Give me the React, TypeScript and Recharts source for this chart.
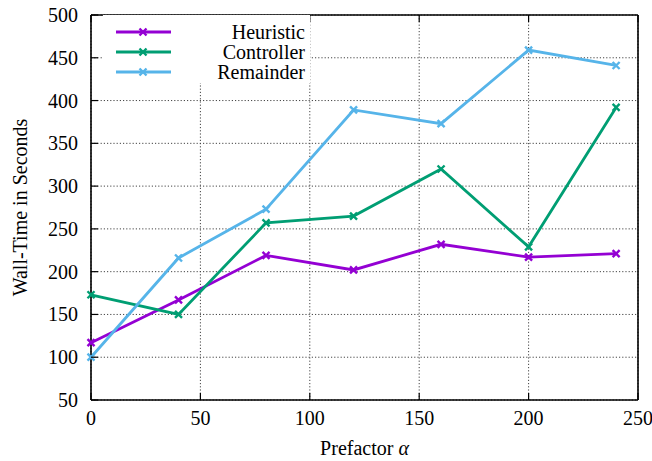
import React from 'react';
import { LineChart, Line, XAxis, YAxis, CartesianGrid } from 'recharts';

const alphas = [0, 40, 80, 120, 160, 200, 240];
const heuristic = [117, 167, 219, 202, 232, 217, 221];
const controller = [173, 150, 257, 265, 320, 229, 392];
const remainder = [100, 216, 273, 389, 373, 459, 441];

const xTicks = [0, 50, 100, 150, 200, 250];
const yTicks = [50, 100, 150, 200, 250, 300, 350, 400, 450, 500];

const seriesNames = ['Heuristic', 'Controller', 'Remainder'];
const seriesKeys = ['heuristic', 'controller', 'remainder'];
const seriesColors = ['#9400d3', '#009e73', '#56b4e9'];

const data = alphas.map((a, i) => ({
  alpha: a,
  heuristic: heuristic[i],
  controller: controller[i],
  remainder: remainder[i],
}));

const FONT = "'Liberation Serif', 'Times New Roman', 'DejaVu Serif', serif";
const TICK_LEN = 7;

// gnuplot style: ticks point inward on every side, labels only bottom/left
const BottomTick = ({ x, y, payload }: any) => (
  <g>
    <line x1={x} x2={x} y1={y} y2={y - TICK_LEN} stroke="#000" strokeWidth={1.2} />
    <text x={x} y={y + 25} textAnchor="middle" style={{ fontFamily: FONT, fontSize: 20 }} fill="#000">
      {payload.value}
    </text>
  </g>
);

const LeftTick = ({ x, y, payload }: any) => (
  <g>
    <line x1={x} x2={x + TICK_LEN} y1={y} y2={y} stroke="#000" strokeWidth={1.2} />
    <text x={x - 13} y={y + 7} textAnchor="end" style={{ fontFamily: FONT, fontSize: 20 }} fill="#000">
      {payload.value}
    </text>
  </g>
);

const TopTick = ({ x, y }: any) => (
  <line x1={x} x2={x} y1={y} y2={y + TICK_LEN} stroke="#000" strokeWidth={1.2} />
);

const RightTick = ({ x, y }: any) => (
  <line x1={x} x2={x - TICK_LEN} y1={y} y2={y} stroke="#000" strokeWidth={1.2} />
);

const crossDot = (color: string) => (props: any) => {
  const { cx, cy, index } = props;
  const s = 3.5;
  return (
    <path
      key={index}
      d={`M${cx - s},${cy - s}L${cx + s},${cy + s}M${cx - s},${cy + s}L${cx + s},${cy - s}`}
      stroke={color}
      strokeWidth={2.4}
      fill="none"
    />
  );
};

const XTitle = ({ viewBox }: any) => (
  <text
    x={viewBox.x + viewBox.width / 2}
    y={viewBox.y + viewBox.height - 6}
    textAnchor="middle"
    style={{ fontFamily: FONT, fontSize: 20 }}
    fill="#000"
  >
    Prefactor <tspan fontStyle="italic">α</tspan>
  </text>
);

const KeyBox = () => (
  <div
    style={{
      position: 'absolute',
      left: 103,
      top: 15,
      width: 207,
      height: 68,
      background: '#fff',
      paddingTop: 7,
      boxSizing: 'border-box',
      fontFamily: FONT,
      fontSize: 20,
    }}
  >
    {seriesNames.map((name, i) => (
      <div key={name} style={{ display: 'flex', alignItems: 'center', height: 20 }}>
        <svg width={68} height={20} style={{ display: 'block' }}>
          <line x1={13} x2={68} y1={10} y2={10} stroke={seriesColors[i]} strokeWidth={2.8} />
          <path d="M36.5,6.5L43.5,13.5M36.5,13.5L43.5,6.5" stroke={seriesColors[i]} strokeWidth={2.4} />
        </svg>
        <div style={{ flex: 1, textAlign: 'right', paddingRight: 5, lineHeight: '20px' }}>{name}</div>
      </div>
    ))}
  </div>
);

export default function App() {
  return (
    <div style={{ position: 'absolute', left: 0, top: 0, width: 652, height: 461, background: '#fff' }}>
      <LineChart width={652} height={461} data={data} margin={{ top: 14, right: 13, bottom: 0, left: 0 }}>
        <CartesianGrid stroke="#444" strokeDasharray="1.2 2" strokeWidth={1} />
        <XAxis
          dataKey="alpha"
          type="number"
          domain={[0, 250]}
          ticks={xTicks}
          height={61}
          tickSize={0}
          tickMargin={0}
          tick={BottomTick}
          axisLine={{ stroke: '#000', strokeWidth: 1.6 }}
          tickLine={false}
          interval={0}
          label={<XTitle />}
        />
        <XAxis
          xAxisId="top"
          orientation="top"
          dataKey="alpha"
          type="number"
          domain={[0, 250]}
          ticks={xTicks}
          height={1}
          tickSize={0}
          tickMargin={0}
          tick={TopTick}
          axisLine={{ stroke: '#000', strokeWidth: 1.6 }}
          tickLine={false}
          interval={0}
        />
        <YAxis
          type="number"
          domain={[50, 500]}
          ticks={yTicks}
          width={91}
          tickSize={0}
          tickMargin={0}
          tick={LeftTick}
          axisLine={{ stroke: '#000', strokeWidth: 1.6 }}
          tickLine={false}
          interval={0}
          label={{
            value: 'Wall-Time in Seconds',
            angle: -90,
            position: 'insideLeft',
            offset: 20,
            style: { textAnchor: 'middle', fontFamily: FONT, fontSize: 20, fill: '#000' },
          }}
        />
        <YAxis
          yAxisId="right"
          orientation="right"
          type="number"
          domain={[50, 500]}
          ticks={yTicks}
          width={1}
          tickSize={0}
          tickMargin={0}
          tick={RightTick}
          axisLine={{ stroke: '#000', strokeWidth: 1.6 }}
          tickLine={false}
          interval={0}
        />
        {seriesKeys.map((k, i) => (
          <Line
            key={k}
            dataKey={k}
            name={seriesNames[i]}
            type="linear"
            stroke={seriesColors[i]}
            strokeWidth={2.8}
            dot={crossDot(seriesColors[i])}
            activeDot={false}
            isAnimationActive={false}
          />
        ))}
      </LineChart>
      <KeyBox />
    </div>
  );
}
